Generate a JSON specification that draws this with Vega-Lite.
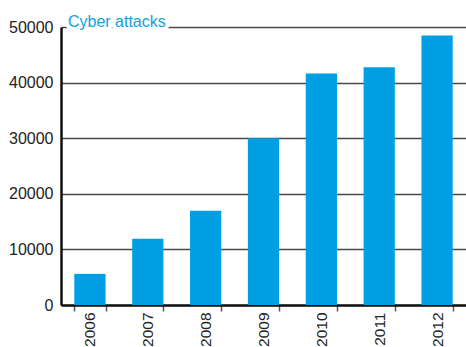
{
  "$schema": "https://vega.github.io/schema/vega-lite/v6.json",
  "width": 405,
  "height": 278,
  "autosize": "none",
  "padding": {"left": 61, "top": 27, "right": 0, "bottom": 42},
  "background": "white",
  "config": {
    "view": {"stroke": null},
    "font": "Liberation Sans"
  },
  "data": {
    "values": [
      {"year": "2006", "attacks": 5600},
      {"year": "2007", "attacks": 11900},
      {"year": "2008", "attacks": 16950},
      {"year": "2009", "attacks": 30000},
      {"year": "2010", "attacks": 41650},
      {"year": "2011", "attacks": 42750},
      {"year": "2012", "attacks": 48450}
    ]
  },
  "layer": [
    {
      "mark": {"type": "bar", "color": "#009FE3"},
      "encoding": {
        "x": {
          "field": "year",
          "type": "ordinal",
          "scale": {"paddingInner": 0.46, "paddingOuter": 0.23},
          "axis": {
            "title": null,
            "labelAngle": -90,
            "labelAlign": "right",
            "labelBaseline": "middle",
            "labelFontSize": 15.5,
            "labelColor": "#222222",
            "labelPadding": 1,
            "tickBand": "extent",
            "ticks": true,
            "tickColor": "#555555",
            "tickSize": 6,
            "tickWidth": 1.5,
            "domainColor": "#111111",
            "domainWidth": 2.5,
            "grid": false
          }
        },
        "y": {
          "field": "attacks",
          "type": "quantitative",
          "scale": {"domain": [0, 50000], "nice": false},
          "axis": {
            "title": null,
            "values": [0, 10000, 20000, 30000, 40000, 50000],
            "format": "d",
            "labelFontSize": 16,
            "labelColor": "#222222",
            "labelPadding": 8,
            "ticks": false,
            "domainColor": "#111111",
            "domainWidth": 2.5,
            "grid": true,
            "gridColor": "#4a4a4a",
            "gridWidth": 1.5
          }
        }
      }
    },
    {
      "data": {"values": [{"label": "Cyber attacks", "pos": 50000, "year": "2006"}]},
      "mark": {
        "type": "text",
        "align": "left",
        "baseline": "alphabetic",
        "fontSize": 16,
        "xOffset": -22,
        "stroke": "white",
        "strokeWidth": 8,
        "fill": "white"
      },
      "encoding": {
        "x": {"field": "year", "type": "ordinal"},
        "y": {"field": "pos", "type": "quantitative"},
        "text": {"field": "label"}
      }
    },
    {
      "data": {"values": [{"label": "Cyber attacks", "pos": 50000, "year": "2006"}]},
      "mark": {
        "type": "text",
        "align": "left",
        "baseline": "alphabetic",
        "fontSize": 16,
        "xOffset": -22,
        "color": "#109FE0"
      },
      "encoding": {
        "x": {"field": "year", "type": "ordinal"},
        "y": {"field": "pos", "type": "quantitative"},
        "text": {"field": "label"}
      }
    }
  ]
}
